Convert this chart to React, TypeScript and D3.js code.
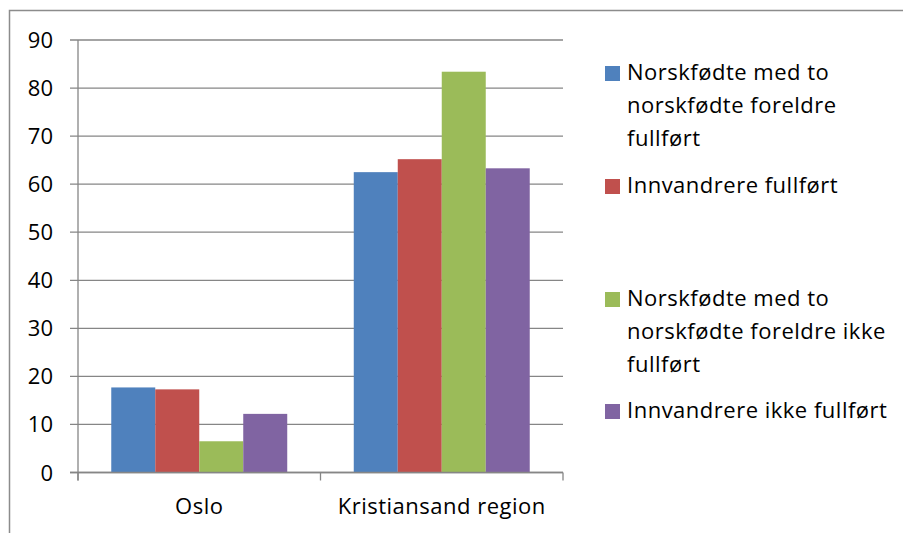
import * as d3 from 'd3'

const categories = ['Oslo', 'Kristiansand region']
const seriesNames = [
  'Norskfødte med to norskfødte foreldre fullført',
  'Innvandrere fullført',
  'Norskfødte med to norskfødte foreldre ikke fullført',
  'Innvandrere ikke fullført',
]
const colors = ['#4f81bd', '#c0504d', '#9bbb59', '#8064a2']
const values = [
  [17.7, 62.5],
  [17.3, 65.2],
  [6.5, 83.4],
  [12.2, 63.3],
]
const yTicks = [0, 10, 20, 30, 40, 50, 60, 70, 80, 90]
// legend lines as wrapped in the original
const legendLines = [
  ['Norskfødte med to', 'norskfødte foreldre', 'fullført'],
  ['Innvandrere fullført'],
  ['Norskfødte med to', 'norskfødte foreldre ikke', 'fullført'],
  ['Innvandrere ikke fullført'],
]
const legendTop = [80, 193, 306, 418]

const W = 903
const H = 533
const margin = { left: 78, right: 340, top: 40, bottom: 60.5 }
const font = '"Open Sans", "Noto Sans", sans-serif'
const fs = 22
const ls = 0.5

const App = () => {
  const x0 = d3
    .scaleBand<string>()
    .domain(categories)
    .range([margin.left, W - margin.right])
  const x1 = d3
    .scaleBand<number>()
    .domain(d3.range(seriesNames.length))
    .range([0, x0.bandwidth()])
    .paddingOuter(0.756)
  const y = d3
    .scaleLinear()
    .domain([0, 90])
    .range([H - margin.bottom, margin.top])

  const x0Left = margin.left
  const x0Right = W - margin.right

  return (
    <svg width={W} height={H} style={{ position: 'absolute', left: 0, top: 0, background: '#fff' }}>
      <rect x={9.5} y={10.5} width={W} height={H} fill="#fff" stroke="#8c8c8c" strokeWidth={1.5} />
      {/* gridlines */}
      {yTicks.map((t) => (
        <line key={'g' + t} x1={x0Left - 8} x2={x0Right} y1={y(t)} y2={y(t)} stroke="#868686" strokeWidth={1.3} />
      ))}
      {/* bars */}
      {seriesNames.map((s, si) =>
        categories.map((c, ci) => (
          <rect
            key={s + c}
            x={(x0(c) ?? 0) + (x1(si) ?? 0)}
            y={y(values[si][ci])}
            width={x1.bandwidth()}
            height={y(0) - y(values[si][ci])}
            fill={colors[si]}
          />
        ))
      )}
      {/* axes */}
      <line x1={x0Left} x2={x0Left} y1={y(90)} y2={y(0) + 8} stroke="#868686" strokeWidth={1.3} />
      <line x1={x0Left - 8} x2={x0Right} y1={y(0)} y2={y(0)} stroke="#868686" strokeWidth={1.3} />
      {[...categories.map((c) => x0(c) ?? 0), x0Right].map((xv, i) => (
        <line key={'xt' + i} x1={xv} x2={xv} y1={y(0)} y2={y(0) + 8} stroke="#868686" strokeWidth={1.3} />
      ))}
      {yTicks.map((t) => (
        <text key={'yl' + t} x={53} y={y(t) + 8} textAnchor="end" fontFamily={font} fontSize={fs} fill="#000">
          {t}
        </text>
      ))}
      {categories.map((c) => (
        <text
          key={'cl' + c}
          x={(x0(c) ?? 0) + x0.bandwidth() / 2}
          y={514}
          textAnchor="middle"
          fontFamily={font}
          fontSize={fs}
          letterSpacing={ls}
          fill="#000"
        >
          {c}
        </text>
      ))}
      {/* legend */}
      {seriesNames.map((s, si) => (
        <g key={'lg' + s}>
          <rect x={605} y={legendTop[si] - 14} width={15} height={15} fill={colors[si]} />
          {legendLines[si].map((ln, li) => (
            <text
              key={li}
              x={627}
              y={legendTop[si] + li * 33}
              fontFamily={font}
              fontSize={fs}
              letterSpacing={ls}
              fill="#000"
            >
              {ln}
            </text>
          ))}
        </g>
      ))}
    </svg>
  )
}

export default App
